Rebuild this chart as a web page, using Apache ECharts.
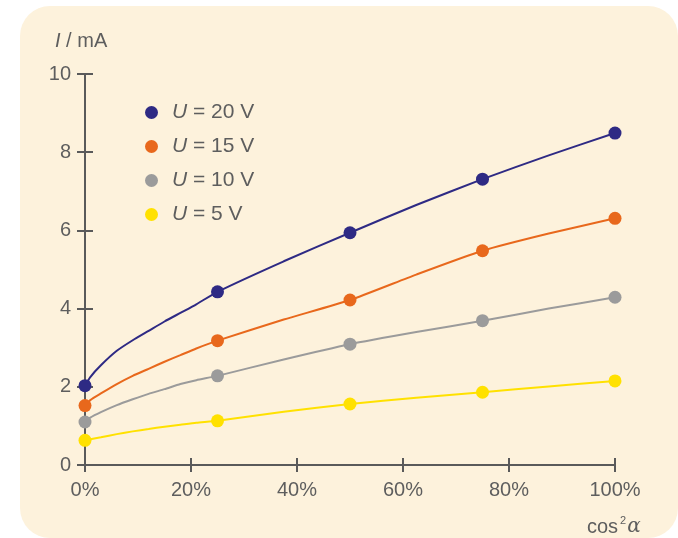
<!DOCTYPE html>
<html><head><meta charset="utf-8">
<script src="https://cdn.jsdelivr.net/npm/echarts@6/dist/echarts.min.js"></script>
<style>html,body{margin:0;padding:0;background:#fff}#c{width:678px;height:538px}</style>
</head><body><div id="c"></div>
<script>
// ---- data ----
const pointX = [0, 25, 50, 75, 100];           // cos^2 alpha in %
const seriesNames = ['U = 20 V', 'U = 15 V', 'U = 10 V', 'U = 5 V'];
const pts20 = [2.03, 4.43, 5.94, 7.31, 8.49];
const pts15 = [1.52, 3.18, 4.22, 5.48, 6.31];
const pts10 = [1.10, 2.28, 3.09, 3.69, 4.29];
const pts5  = [0.63, 1.13, 1.56, 1.86, 2.15];
// fitted curves
const curveX  = [0, 1, 3, 6, 9, 12, 15, 18, 21, 25, 37.5, 50, 62.5, 75, 87.5, 100];
const curve20 = [2.03, 2.25, 2.55, 2.92, 3.19, 3.43, 3.67, 3.89, 4.11, 4.43, 5.21, 5.94, 6.65, 7.31, 7.92, 8.49];
const curve15 = [1.52, 1.66, 1.83, 2.07, 2.28, 2.46, 2.64, 2.81, 2.98, 3.18, 3.72, 4.22, 4.87, 5.48, 5.92, 6.31];
const curve10 = [1.10, 1.21, 1.35, 1.53, 1.68, 1.82, 1.94, 2.07, 2.17, 2.28, 2.70, 3.09, 3.40, 3.69, 4.00, 4.29];
const curve5  = [0.63, 0.66, 0.71, 0.79, 0.86, 0.92, 0.98, 1.03, 1.08, 1.13, 1.36, 1.56, 1.72, 1.86, 2.01, 2.15];
const xTicks = [0, 20, 40, 60, 80, 100];
const yTicks = [0, 2, 4, 6, 8, 10];

const colors = ['#2e2a84', '#e8681c', '#9b9b9b', '#ffe100'];
const ptsAll = [pts20, pts15, pts10, pts5];
const curvesAll = [curve20, curve15, curve10, curve5];
const FONT = '"Liberation Sans", Arial, sans-serif';
const axisColor = '#5a5a5a';
const labelColor = '#5e5e5e';

const zip = (xs, ys) => xs.map((x, i) => [x, ys[i]]);

const series = [];
curvesAll.forEach((c, i) => {
  series.push({
    name: 'curve' + i, type: 'line', data: zip(curveX, c), smooth: 0.2,
    showSymbol: false, symbol: 'none', silent: true,
    lineStyle: { color: colors[i], width: 2 }, z: 2
  });
});
ptsAll.forEach((p, i) => {
  series.push({
    name: seriesNames[i], type: 'scatter', data: zip(pointX, p),
    symbol: 'circle', symbolSize: 13,
    itemStyle: { color: colors[i], opacity: 1 }, z: 3
  });
});

const chart = echarts.init(document.getElementById('c'), null, { renderer: 'canvas' });
const baseX = {
  type: 'value', min: xTicks[0], max: xTicks[xTicks.length - 1], interval: xTicks[1] - xTicks[0],
  position: 'bottom', splitLine: { show: false }
};
const baseY = {
  type: 'value', min: yTicks[0], max: yTicks[yTicks.length - 1], interval: yTicks[1] - yTicks[0],
  position: 'left', splitLine: { show: false }
};
chart.setOption({
  backgroundColor: '#ffffff',
  animation: false,
  textStyle: { fontFamily: FONT },
  graphic: [
    { type: 'rect', z: -10, silent: true,
      shape: { x: 20, y: 6, width: 658, height: 532, r: 30 },
      style: { fill: '#fdf2dc' } },
    { type: 'text', left: 55, top: 31, z: 10,
      style: { text: '{i|I} / mA', fill: labelColor, font: '20px ' + FONT,
        rich: { i: { fontStyle: 'italic', fontSize: 20, fontFamily: FONT, fill: labelColor } } } },
    { type: 'text', left: 587, top: 515, z: 10,
      style: { text: 'cos{s|2}{a|α}', fill: labelColor, font: '20px ' + FONT,
        rich: {
          s: { fontSize: 11, fontFamily: FONT, fill: labelColor, verticalAlign: 'top', padding: [0, 1, 13, 2] },
          a: { fontSize: 20, fontFamily: '"DejaVu Serif", serif', fontStyle: 'italic', fill: labelColor }
        } } }
  ],
  grid: { left: 85, right: 63, top: 74, bottom: 73, containLabel: false },
  legend: {
    data: seriesNames, orient: 'vertical', left: 140, top: 97,
    icon: 'circle', itemWidth: 13, itemHeight: 13, itemGap: 13,
    selectedMode: false,
    formatter: n => '{u|U}' + n.slice(1),
    textStyle: { color: labelColor, fontSize: 21, fontFamily: FONT, lineHeight: 21, padding: [0, 0, 0, 9],
      rich: { u: { fontStyle: 'italic', fontSize: 21, fontFamily: FONT, color: labelColor } } }
  },
  xAxis: [
    Object.assign({}, baseX, {
      axisLine: { show: true, lineStyle: { color: axisColor, width: 2 } },
      axisTick: { show: true, inside: false, length: 7, lineStyle: { color: axisColor, width: 2 } },
      axisLabel: { show: true, margin: 15, color: labelColor, fontSize: 20, fontFamily: FONT, formatter: '{value}%' }
    }),
    Object.assign({}, baseX, {
      axisLine: { show: false },
      axisTick: { show: true, inside: true, length: 7, lineStyle: { color: axisColor, width: 2 } },
      axisLabel: { show: false }
    })
  ],
  yAxis: [
    Object.assign({}, baseY, {
      axisLine: { show: true, lineStyle: { color: axisColor, width: 2 } },
      axisTick: { show: true, inside: false, length: 8, lineStyle: { color: axisColor, width: 2 } },
      axisLabel: { show: true, margin: 14, color: labelColor, fontSize: 20, fontFamily: FONT }
    }),
    Object.assign({}, baseY, {
      axisLine: { show: false },
      axisTick: { show: true, inside: true, length: 8, lineStyle: { color: axisColor, width: 2 } },
      axisLabel: { show: false }
    })
  ],
  series: series
});
</script></body></html>
